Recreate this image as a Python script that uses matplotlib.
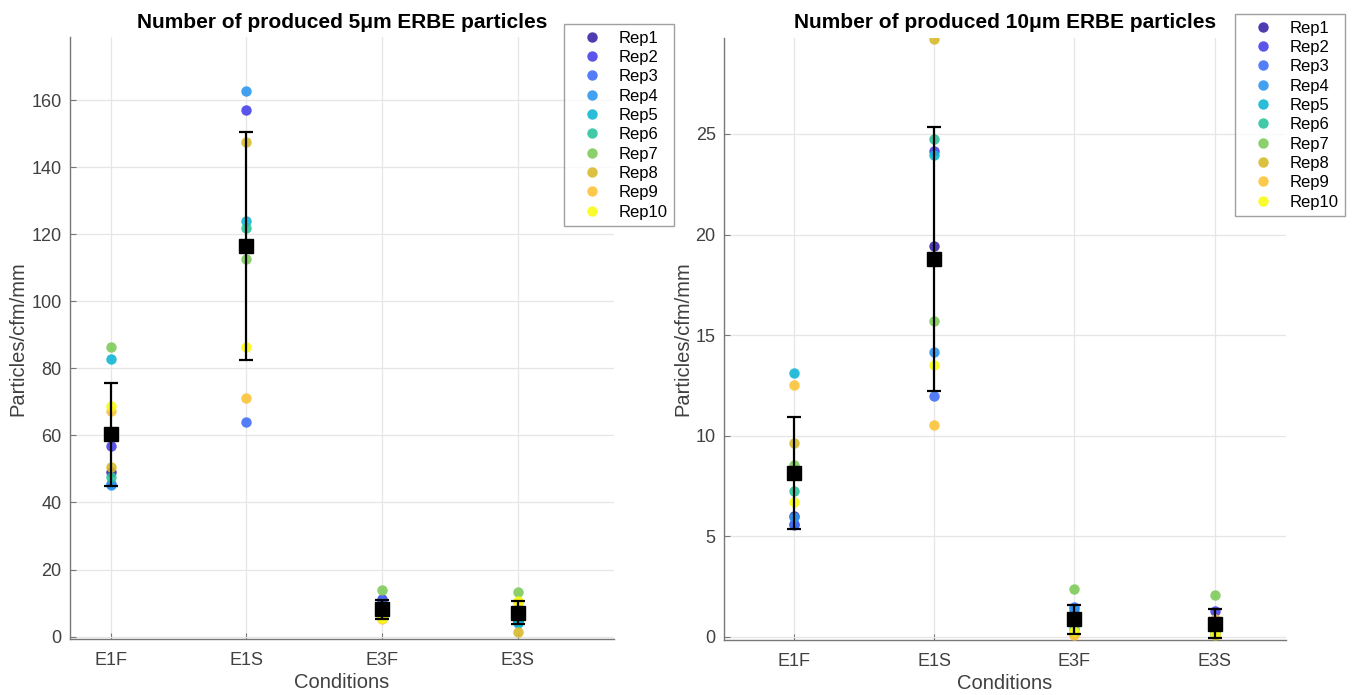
import matplotlib
matplotlib.use("Agg")
import matplotlib.pyplot as plt
import numpy as np

plt.rcParams['font.family'] = ['Liberation Sans', 'DejaVu Sans']

conditions = ["E1F", "E1S", "E3F", "E3S"]
rep_names = ["Rep1", "Rep2", "Rep3", "Rep4", "Rep5", "Rep6", "Rep7", "Rep8", "Rep9", "Rep10"]
rep_colors = ["#3e26a8", "#4a42e8", "#4170f7", "#2e97f0", "#12b6d6",
              "#2ec49e", "#7ecb5a", "#d8b92c", "#fcc33a", "#f9fb15"]

# 5um particles: one list per condition, values for Rep1..Rep10
p5_E1F = [49.0, 56.8, 45.5, 45.2, 82.7, 47.6, 86.5, 50.6, 67.4, 68.9]
p5_E1S = [117.0, 157.0, 64.0, 162.7, 123.9, 121.8, 112.6, 147.4, 71.1, 86.5]
p5_E3F = [7.5, 11.2, 10.5, 8.0, 7.0, 7.5, 13.8, 6.0, 5.2, 5.5]
p5_E3S = [8.0, 5.0, 5.0, 4.5, 4.0, 7.0, 13.2, 1.3, 10.3, 10.5]
p5_mean = [60.3, 116.4, 8.1, 7.1]
p5_err = [15.3, 34.0, 2.9, 3.4]

# 10um particles
p10_E1F = [6.0, 5.6, 5.57, 5.98, 13.1, 7.26, 8.55, 9.64, 12.5, 6.7]
p10_E1S = [19.43, 24.15, 11.98, 14.16, 23.96, 24.75, 15.7, 29.7, 10.54, 13.5]
p10_E3F = [1.0, 1.2, 1.5, 1.4, 0.4, 0.6, 2.37, 0.2, 0.1, 0.3]
p10_E3S = [0.5, 1.3, 0.8, 0.3, 0.2, 0.4, 2.09, 0.1, 0.9, 0.2]
p10_mean = [8.15, 18.8, 0.88, 0.67]
p10_err = [2.78, 6.55, 0.72, 0.70]

W, H = 1354, 695
fig = plt.figure(figsize=(W / 100, H / 100), dpi=100)

panels = [
    dict(rect=[70 / W, 1 - 639.3 / H, 544 / W, 602 / H],
         data=[p5_E1F, p5_E1S, p5_E3F, p5_E3S], mean=p5_mean, err=p5_err,
         title="Number of produced 5\u03bcm ERBE particles",
         xlim=(0.7, 4.71), ylim=(-0.8, 178.7), yticks=[0, 20, 40, 60, 80, 100, 120, 140, 160],
         leg=(674 / W, 1 - 24 / H), ylab_x=-0.0956),
    dict(rect=[724 / W, 1 - 640 / H, 562 / W, 602 / H],
         data=[p10_E1F, p10_E1S, p10_E3F, p10_E3S], mean=p10_mean, err=p10_err,
         title="Number of produced 10\u03bcm ERBE particles",
         xlim=(0.5, 4.51), ylim=(-0.15, 29.77), yticks=[0, 5, 10, 15, 20, 25],
         leg=(1345 / W, 1 - 14 / H), ylab_x=-0.073),
]

for p in panels:
    ax = fig.add_axes(p["rect"])
    x = np.arange(1, len(conditions) + 1)
    vals = np.array(p["data"])  # shape (cond, rep)
    for r in range(len(rep_names)):
        ax.plot(x, vals[:, r], linestyle="none", marker="o", markersize=7.5,
                color=rep_colors[r], markeredgewidth=0, alpha=0.9,
                label=rep_names[r], zorder=3)
    ax.errorbar(x, p["mean"], yerr=p["err"], fmt="s", color="black",
                markersize=10, ecolor="black", elinewidth=1.6, capsize=5,
                capthick=1.6, zorder=4)
    ax.set_xlim(*p["xlim"])
    ax.set_ylim(*p["ylim"])
    ax.set_xticks(x)
    ax.set_xticklabels(conditions)
    ax.set_yticks(p["yticks"])
    ax.grid(True, color="#e6e6e6", linewidth=0.9)
    ax.set_axisbelow(True)
    for s in ["top", "right"]:
        ax.spines[s].set_visible(False)
    for s in ["left", "bottom"]:
        ax.spines[s].set_color("#777777")
        ax.spines[s].set_linewidth(1.0)
    ax.tick_params(direction="in", length=4, color="#777777",
                   labelsize=13, labelcolor="#404040", pad=6)
    ax.tick_params(axis="x", pad=9)
    ax.set_title(p["title"], fontsize=15, fontweight="bold", pad=7)
    ax.set_xlabel("Conditions", fontsize=14.5, color="#404040", labelpad=3)
    ax.set_ylabel("Particles/cfm/mm", fontsize=14.5, color="#404040", va="center")
    ax.yaxis.set_label_coords(p["ylab_x"], 0.5)
    leg = fig.legend(handles=ax.get_lines()[:10], labels=rep_names,
                     loc="upper right", bbox_to_anchor=p["leg"],
                     bbox_transform=fig.transFigure, fontsize=12,
                     frameon=True, fancybox=False, edgecolor="#888888",
                     borderaxespad=0, handlelength=2.5, handletextpad=0.35,
                     labelspacing=0.26, borderpad=0.4, markerscale=1.0)
    leg.get_frame().set_linewidth(1.0)

fig.savefig("out.png", dpi=100)
